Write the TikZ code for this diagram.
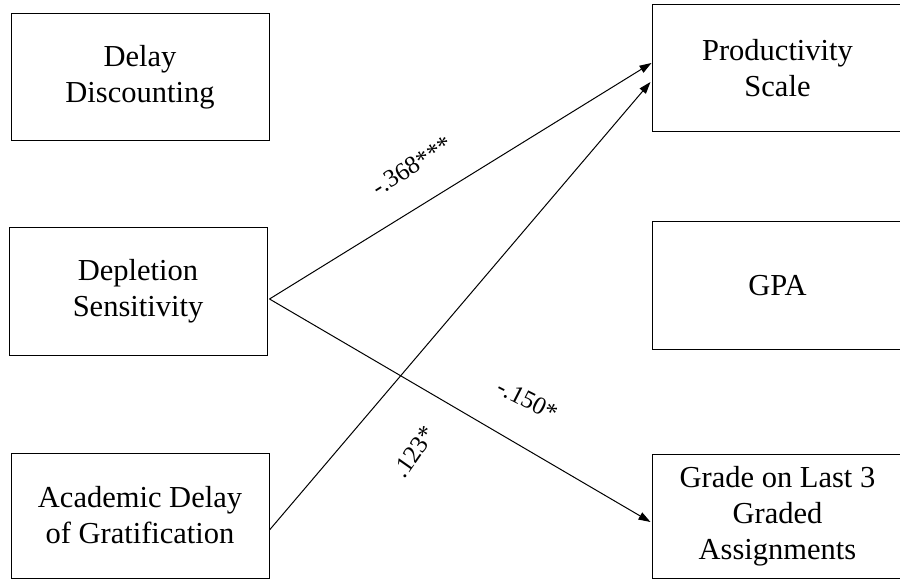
\documentclass[tikz,border=0pt]{standalone}
\usepackage{fontspec}
\setmainfont{Liberation Serif}
\usetikzlibrary{arrows.meta,calc}
\tikzset{
  varbox/.style={draw, line width=1pt, rectangle, align=center, inner sep=0pt,
    font=\fontsize{30.5}{36}\selectfont},
  path/.style={line width=1pt, -{Triangle[length=12pt,width=8pt]}},
  coef/.style={font=\fontsize{25}{28}\selectfont, inner sep=0pt}
}
\begin{document}
\begin{tikzpicture}[x=1pt, y=-1pt]
  \useasboundingbox (0,0) rectangle (900,580);
  \clip (0,0) rectangle (900,580);

  % predictors
  \node[varbox, minimum width=258pt, minimum height=127pt] (dd) at (140,77.5) {Delay\\Discounting};
  \node[varbox, minimum width=258pt, minimum height=127pt] (dep) at (138,291.5) {Depletion\\Sensitivity};
  \node[varbox, minimum width=258pt, minimum height=125pt] (adg) at (140,515.5) {Academic Delay\\of Gratification};

  % outcomes (right edges run past the page)
  \node[varbox, minimum width=251pt, minimum height=127pt] (prod) at (777.5,68.5) {Productivity\\Scale};
  \node[varbox, minimum width=251pt, minimum height=127pt] (gpa) at (777.5,285.5) {GPA};
  \node[varbox, minimum width=251pt, minimum height=124pt] (grade) at (777.5,516) {Grade on Last 3\\Graded\\Assignments};

  % paths
  \draw[path] ([xshift=2pt,yshift=-7.5pt]dep.east) -- ([yshift=5.5pt]prod.west);
  \draw[path] ([xshift=2pt,yshift=-7.5pt]dep.east) -- ([xshift=-1pt,yshift=-6pt]grade.west);
  \draw[path] ([yshift=-14.5pt]adg.east) -- ([xshift=-1pt,yshift=-13.5pt]prod.west);

  % path coefficients
  \node[coef, rotate=32] (c1) at (412,166) {-.368***};
  \node[coef, rotate=-27] (c2) at (528,400) {-.150*};
  \node[coef, rotate=55] (c3) at (414,452) {.123*};
\end{tikzpicture}
\end{document}
